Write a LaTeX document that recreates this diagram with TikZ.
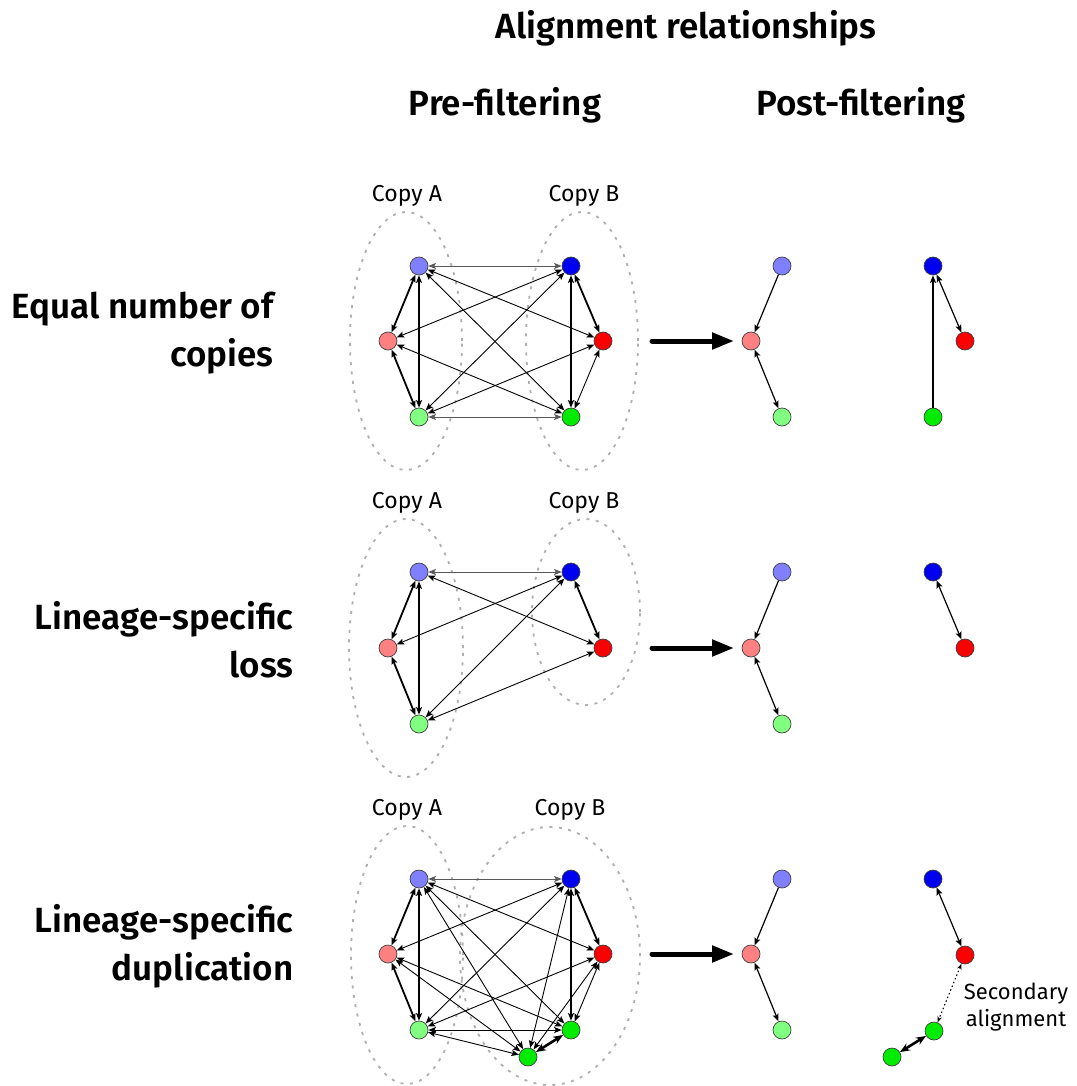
\documentclass[tikz,border=0pt]{standalone}
\usepackage{fontspec}
\setmainfont{Fira Sans}[BoldFont={Fira Sans SemiBold}]
\usetikzlibrary{arrows.meta}
\definecolor{lblue}{RGB}{128,128,255}
\definecolor{dblue}{RGB}{0,0,240}
\definecolor{lred}{RGB}{255,128,128}
\definecolor{dred}{RGB}{250,0,0}
\definecolor{lgreen}{RGB}{128,255,128}
\definecolor{dgreen}{RGB}{0,235,0}
\definecolor{setgray}{RGB}{175,175,175}
\tikzset{
  gnode/.style={circle, draw=black!75, line width=0.7pt, minimum size=18pt, inner sep=0pt},
  tipA/.tip={Stealth[length=7.5pt,width=6pt,inset=1.5pt]},
  lnk/.style={tipA-tipA, line width=0.9pt, black},
  lnkgray/.style={lnk, black!65},
  lnkmed/.style={lnk, line width=1.2pt},
  lnkthick/.style={lnk, line width=1.8pt},
  lnkfat/.style={{Stealth[length=10pt,width=8pt]}-{Stealth[length=10pt,width=8pt]}, line width=2.6pt},
  onehead/.style={-{Stealth[length=7.5pt,width=6pt,inset=1.5pt]}, line width=1.2pt},
  dotlnk/.style={{Stealth[length=6pt,width=4.5pt]}-{Stealth[length=6pt,width=4.5pt]}, line width=1.1pt, dash pattern=on 1.5pt off 2.5pt},
  bigarrow/.style={-{Triangle[length=22pt,width=16pt]}, line width=5pt, line cap=round},
  copyset/.style={draw=setgray, line width=1.8pt, dash pattern=on 3pt off 6.5pt},
  title/.style={font=\fontsize{35}{40}\selectfont\bfseries},
  rowlabel/.style={font=\fontsize{35}{48}\selectfont\bfseries, align=right, anchor=east},
  copylabel/.style={font=\fontsize{23}{26}\selectfont},
}
\begin{document}
\begin{tikzpicture}[x=1pt,y=-1pt]
\useasboundingbox (0,0) rectangle (1076,1086);

% titles
\node[title] (ttl) at (686,28) {Alignment relationships};
\node[title] (tpre) at (505,105) {Pre-filtering};
\node[title] (tpost) at (861,105) {Post-filtering};

% row labels
\node[rowlabel] (r1) at (277,333) {Equal number of\\copies};
\node[rowlabel] (r2) at (297,640) {Lineage-specific\\loss};
\node[rowlabel] (r3) at (297,946) {Lineage-specific\\duplication};

% copy sets
\draw[copyset] (406,341) ellipse [x radius=56pt, y radius=129pt];
\draw[copyset] (582,341) ellipse [x radius=56pt, y radius=129pt];
\draw[copyset] (406,648) ellipse [x radius=57pt, y radius=129pt];
\draw[copyset] (586,612) ellipse [x radius=54pt, y radius=93pt];
\draw[copyset] (407,955) ellipse [x radius=56pt, y radius=129pt];
\draw[copyset] (550,956) ellipse [x radius=90pt, y radius=129pt];

\node[copylabel] (ca1) at (407,196) {Copy A};
\node[copylabel] (cb1) at (584,196) {Copy B};
\node[copylabel] (ca2) at (407,503) {Copy A};
\node[copylabel] (cb2) at (584,503) {Copy B};
\node[copylabel] (ca3) at (407,810) {Copy A};
\node[copylabel] (cb3) at (570,810) {Copy B};

% ---------- row 1 pre ----------
\node[gnode, fill=lblue] (aLB) at (419,266) {};
\node[gnode, fill=dblue] (aB) at (571,266) {};
\node[gnode, fill=lred] (aP) at (388,341) {};
\node[gnode, fill=dred] (aR) at (603,341) {};
\node[gnode, fill=lgreen] (aLG) at (419,417) {};
\node[gnode, fill=dgreen] (aG) at (571,417) {};
\foreach \u/\v in {aLB/aR, aLB/aG, aP/aB, aP/aG, aLG/aB, aLG/aR, aR/aG}
  \draw[lnk] (\u) -- (\v);
\draw[lnkgray] (aLB) -- (aB);
\draw[lnkgray] (aLG) -- (aG);
\draw[lnkmed] (aLB) -- (aLG);
\foreach \u/\v in {aLB/aP, aP/aLG, aB/aR, aB/aG}
  \draw[lnkthick] (\u) -- (\v);

% ---------- row 2 pre ----------
\node[gnode, fill=lblue] (bLB) at (419,572) {};
\node[gnode, fill=dblue] (bB) at (571,572) {};
\node[gnode, fill=lred] (bP) at (388,648) {};
\node[gnode, fill=dred] (bR) at (603,648) {};
\node[gnode, fill=lgreen] (bLG) at (419,724) {};
\foreach \u/\v in {bLB/bR, bP/bB, bLG/bB, bLG/bR}
  \draw[lnk] (\u) -- (\v);
\draw[lnkgray] (bLB) -- (bB);
\draw[lnkmed] (bLB) -- (bLG);
\foreach \u/\v in {bLB/bP, bP/bLG, bB/bR}
  \draw[lnkthick] (\u) -- (\v);

% ---------- row 3 pre ----------
\node[gnode, fill=lblue] (cLB) at (419,879) {};
\node[gnode, fill=dblue] (cB) at (571,879) {};
\node[gnode, fill=lred] (cP) at (388,954) {};
\node[gnode, fill=dred] (cR) at (603,954) {};
\node[gnode, fill=lgreen] (cLG) at (419,1030) {};
\node[gnode, fill=dgreen] (cG) at (571,1030) {};
\node[gnode, fill=dgreen] (cG2) at (528,1057) {};
\foreach \u/\v in {cLB/cR, cLB/cG, cLB/cG2, cP/cB, cP/cG, cP/cG2, cLG/cB, cLG/cR, cLG/cG2, cB/cG2, cR/cG, cR/cG2}
  \draw[lnk] (\u) -- (\v);
\draw[lnkgray] (cLB) -- (cB);
\draw[lnk] (cLG) -- (cG);
\draw[lnkmed] (cLB) -- (cLG);
\foreach \u/\v in {cLB/cP, cP/cLG, cB/cR, cB/cG}
  \draw[lnkthick] (\u) -- (\v);
\draw[lnkfat] (cG) -- (cG2);

% ---------- big arrows ----------
\coordinate (s1) at (652,341); \coordinate (t1) at (734,341);
\coordinate (s2) at (652,648); \coordinate (t2) at (734,648);
\coordinate (s3) at (652,954); \coordinate (t3) at (734,954);
\draw[bigarrow] (s1) -- (t1);
\draw[bigarrow] (s2) -- (t2);
\draw[bigarrow] (s3) -- (t3);

% ---------- row 1 post ----------
\node[gnode, fill=lblue] (dLB) at (782,266) {};
\node[gnode, fill=lred] (dP) at (751,341) {};
\node[gnode, fill=lgreen] (dLG) at (782,417) {};
\node[gnode, fill=dblue] (dB) at (933,266) {};
\node[gnode, fill=dred] (dR) at (965,341) {};
\node[gnode, fill=dgreen] (dG) at (933,417) {};
\draw[onehead] (dLB) -- (dP);
\draw[lnkmed] (dP) -- (dLG);
\draw[onehead] (dG) -- (dB);
\draw[lnkmed] (dB) -- (dR);

% ---------- row 2 post ----------
\node[gnode, fill=lblue] (eLB) at (782,572) {};
\node[gnode, fill=lred] (eP) at (751,648) {};
\node[gnode, fill=lgreen] (eLG) at (782,724) {};
\node[gnode, fill=dblue] (eB) at (933,572) {};
\node[gnode, fill=dred] (eR) at (965,648) {};
\draw[onehead] (eLB) -- (eP);
\draw[lnkmed] (eP) -- (eLG);
\draw[lnkmed] (eB) -- (eR);

% ---------- row 3 post ----------
\node[gnode, fill=lblue] (fLB) at (782,879) {};
\node[gnode, fill=lred] (fP) at (751,954) {};
\node[gnode, fill=lgreen] (fLG) at (782,1030) {};
\node[gnode, fill=dblue] (fB) at (933,879) {};
\node[gnode, fill=dred] (fR) at (965,955) {};
\node[gnode, fill=dgreen] (fG) at (934,1031) {};
\node[gnode, fill=dgreen] (fG2) at (892,1057) {};
\draw[onehead] (fLB) -- (fP);
\draw[lnkmed] (fP) -- (fLG);
\draw[lnkmed] (fB) -- (fR);
\draw[dotlnk] (fR) -- (fG);
\draw[lnkfat] (fG) -- (fG2);
\node[font=\fontsize{22}{27}\selectfont, align=center] (sec) at (1016,1007) {Secondary\\alignment};
\end{tikzpicture}
\end{document}
